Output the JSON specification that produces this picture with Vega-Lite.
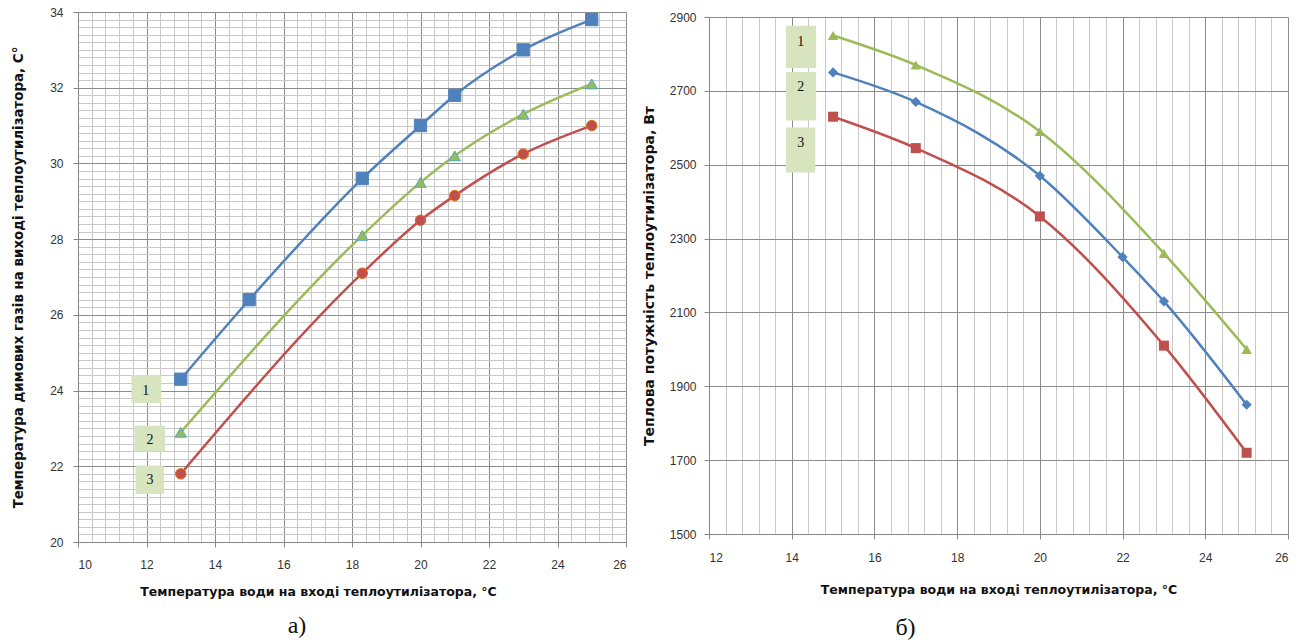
{
  "$schema": "https://vega.github.io/schema/vega-lite/v6.json",
  "padding": {"left": 11, "top": 6, "right": 5, "bottom": 5},
  "background": "white",
  "spacing": 15,
  "resolve": {"scale": {"color": "independent", "shape": "independent", "size": "independent", "stroke": "independent"}},
  "config": {
    "view": {"stroke": null},
    "axis": {
      "labelFont": "Liberation Sans",
      "labelFontSize": 12,
      "labelColor": "#333333",
      "titleFont": "DejaVu Sans",
      "titleFontSize": 12.5,
      "titleFontWeight": "bold",
      "titleColor": "#111111",
      "domainColor": "#868686",
      "tickColor": "#868686",
      "tickSize": 5,
      "format": "d"
    },
    "title": {"font": "Liberation Serif", "fontSize": 24, "fontWeight": "normal", "color": "#111111"}
  },
  "datasets": {
    "a": [
      {"t": 13, "v": 24.3, "series": "1"},
      {"t": 15, "v": 26.4, "series": "1"},
      {"t": 18.3, "v": 29.6, "series": "1"},
      {"t": 20, "v": 31.0, "series": "1"},
      {"t": 21, "v": 31.8, "series": "1"},
      {"t": 23, "v": 33.0, "series": "1"},
      {"t": 25, "v": 33.8, "series": "1"},
      {"t": 13, "v": 22.9, "series": "2"},
      {"t": 18.3, "v": 28.1, "series": "2"},
      {"t": 20, "v": 29.5, "series": "2"},
      {"t": 21, "v": 30.2, "series": "2"},
      {"t": 23, "v": 31.3, "series": "2"},
      {"t": 25, "v": 32.1, "series": "2"},
      {"t": 13, "v": 21.8, "series": "3"},
      {"t": 18.3, "v": 27.1, "series": "3"},
      {"t": 20, "v": 28.5, "series": "3"},
      {"t": 21, "v": 29.15, "series": "3"},
      {"t": 23, "v": 30.25, "series": "3"},
      {"t": 25, "v": 31.0, "series": "3"}
    ],
    "aLabels": [
      {"n": "1", "x1": 11.56, "x2": 12.43, "y1": 24.41, "y2": 23.67, "tx": 11.98, "ty": 24.0},
      {"n": "2", "x1": 11.65, "x2": 12.54, "y1": 23.07, "y2": 22.39, "tx": 12.1, "ty": 22.7},
      {"n": "3", "x1": 11.68, "x2": 12.51, "y1": 22.02, "y2": 21.27, "tx": 12.1, "ty": 21.64}
    ],
    "b": [
      {"t": 15, "p": 2850, "series": "1"},
      {"t": 17, "p": 2770, "series": "1"},
      {"t": 20, "p": 2590, "series": "1"},
      {"t": 23, "p": 2260, "series": "1"},
      {"t": 25, "p": 2000, "series": "1"},
      {"t": 15, "p": 2750, "series": "2"},
      {"t": 17, "p": 2670, "series": "2"},
      {"t": 20, "p": 2470, "series": "2"},
      {"t": 22, "p": 2250, "series": "2"},
      {"t": 23, "p": 2130, "series": "2"},
      {"t": 25, "p": 1850, "series": "2"},
      {"t": 15, "p": 2630, "series": "3"},
      {"t": 17, "p": 2545, "series": "3"},
      {"t": 20, "p": 2360, "series": "3"},
      {"t": 23, "p": 2010, "series": "3"},
      {"t": 25, "p": 1720, "series": "3"}
    ],
    "bLabels": [
      {"n": "1", "x1": 13.86, "x2": 14.59, "y1": 2876, "y2": 2762, "tx": 14.22, "ty": 2832},
      {"n": "2", "x1": 13.86, "x2": 14.59, "y1": 2751, "y2": 2620, "tx": 14.22, "ty": 2710},
      {"n": "3", "x1": 13.86, "x2": 14.57, "y1": 2601, "y2": 2479, "tx": 14.22, "ty": 2559}
    ]
  },
  "hconcat": [
    {
      "width": 548,
      "height": 530,
      "title": {"text": "а)", "orient": "bottom", "dx": -55, "offset": 16},
      "encoding": {
        "x": {
          "type": "quantitative",
          "scale": {"domain": [10, 26], "nice": false, "zero": false},
          "axis": {
            "title": "Температура води на вході теплоутилізатора, °С",
            "values": [10, 10.4, 10.8, 11.2, 11.6, 12, 12.4, 12.8, 13.2, 13.6, 14, 14.4, 14.8, 15.2, 15.6, 16, 16.4, 16.8, 17.2, 17.6, 18, 18.4, 18.8, 19.2, 19.6, 20, 20.4, 20.8, 21.2, 21.6, 22, 22.4, 22.8, 23.2, 23.6, 24, 24.4, 24.8, 25.2, 25.6, 26],
            "labelExpr": "datum.value % 2 === 0 ? datum.label : ''",
            "labelPadding": 12,
            "titlePadding": 15,
            "titleX": 240,
            "grid": true,
            "gridColor": {"condition": {"test": "datum.value % 2 === 0", "value": "#8c8c8c"}, "value": "#c8c8c8"},
            "gridOpacity": 1,
            "tickOpacity": {"condition": {"test": "datum.value % 2 === 0", "value": 1}, "value": 0}
          }
        },
        "y": {
          "type": "quantitative",
          "scale": {"domain": [20, 34], "nice": false, "zero": false},
          "axis": {
            "title": "Температура димових газів на виході теплоутилізатора, С°",
            "titleFontSize": 13.4,
            "values": [20, 20.2, 20.4, 20.6, 20.8, 21, 21.2, 21.4, 21.6, 21.8, 22, 22.2, 22.4, 22.6, 22.8, 23, 23.2, 23.4, 23.6, 23.8, 24, 24.2, 24.4, 24.6, 24.8, 25, 25.2, 25.4, 25.6, 25.8, 26, 26.2, 26.4, 26.6, 26.8, 27, 27.2, 27.4, 27.6, 27.8, 28, 28.2, 28.4, 28.6, 28.8, 29, 29.2, 29.4, 29.6, 29.8, 30, 30.2, 30.4, 30.6, 30.8, 31, 31.2, 31.4, 31.6, 31.8, 32, 32.2, 32.4, 32.6, 32.8, 33, 33.2, 33.4, 33.6, 33.8, 34],
            "labelExpr": "datum.value % 2 === 0 ? datum.label : ''",
            "labelPadding": 10,
            "titlePadding": 24,
            "grid": true,
            "gridColor": {"condition": {"test": "datum.value % 2 === 0", "value": "#8c8c8c"}, "value": "#c8c8c8"},
            "gridOpacity": 1,
            "tickOpacity": {"condition": {"test": "datum.value % 2 === 0", "value": 1}, "value": 0}
          }
        }
      },
      "layer": [
        {
          "data": {"name": "aLabels"},
          "mark": {"type": "rect", "fill": "#d7e4bd"},
          "encoding": {
            "x": {"field": "x1"},
            "x2": {"field": "x2"},
            "y": {"field": "y1"},
            "y2": {"field": "y2"}
          }
        },
        {
          "data": {"name": "aLabels"},
          "mark": {"type": "text", "font": "Liberation Serif", "fontSize": 14, "fill": "#111111"},
          "encoding": {
            "x": {"field": "tx"},
            "y": {"field": "ty"},
            "text": {"field": "n"}
          }
        },
        {
          "data": {"name": "a"},
          "mark": {"type": "line", "interpolate": "monotone", "strokeWidth": 2.5},
          "encoding": {
            "x": {"field": "t"},
            "y": {"field": "v"},
            "color": {"field": "series", "type": "nominal", "scale": {"domain": ["1", "2", "3"], "range": ["#4f81bd", "#9bbb59", "#c0504d"]}, "legend": null}
          }
        },
        {
          "data": {"name": "a"},
          "mark": {"type": "point", "filled": true, "opacity": 1},
          "encoding": {
            "x": {"field": "t"},
            "y": {"field": "v"},
            "color": {"field": "series", "type": "nominal", "scale": {"domain": ["1", "2", "3"], "range": ["#4f81bd", "#9bbb59", "#c0504d"]}, "legend": null},
            "shape": {"field": "series", "type": "nominal", "scale": {"domain": ["1", "2", "3"], "range": ["square", "triangle-up", "circle"]}, "legend": null},
            "size": {"field": "series", "type": "nominal", "scale": {"domain": ["1", "2", "3"], "range": [150, 110, 110]}, "legend": null},
            "stroke": {"field": "series", "type": "nominal", "scale": {"domain": ["1", "2", "3"], "range": ["#4f81bd", "#4bacc6", "#e46c0a"]}, "legend": null},
            "strokeWidth": {"value": 1}
          }
        }
      ]
    },
    {
      "vconcat": [
        {
          "width": 579,
          "height": 5,
          "data": {"values": [{"k": 0}]},
          "mark": {"type": "point", "opacity": 0}
        },
        {
          "width": 579,
          "height": 517,
          "title": {"text": "б)", "orient": "bottom", "dx": -93, "offset": 20},
          "encoding": {
            "x": {
              "type": "quantitative",
              "scale": {"domain": [12, 26], "nice": false, "zero": false},
              "axis": {
                "title": "Температура води на вході теплоутилізатора, °С",
                "values": [12, 12.4, 12.8, 13.2, 13.6, 14, 14.4, 14.8, 15.2, 15.6, 16, 16.4, 16.8, 17.2, 17.6, 18, 18.4, 18.8, 19.2, 19.6, 20, 20.4, 20.8, 21.2, 21.6, 22, 22.4, 22.8, 23.2, 23.6, 24, 24.4, 24.8, 25.2, 25.6, 26],
                "labelExpr": "datum.value % 2 === 0 ? datum.label : ''",
                "labelPadding": 13,
                "titlePadding": 20,
                "grid": true,
                "gridColor": {"condition": {"test": "datum.value % 2 === 0", "value": "#8c8c8c"}, "value": "#c8c8c8"},
                "gridOpacity": 1,
                "tickOpacity": {"condition": {"test": "datum.value % 2 === 0", "value": 1}, "value": 0}
              }
            },
            "y": {
              "type": "quantitative",
              "scale": {"domain": [1500, 2900], "nice": false, "zero": false},
              "axis": {
                "title": "Теплова потужність теплоутилізатора, Вт",
                "titleFontSize": 14,
                "values": [1500, 1700, 1900, 2100, 2300, 2500, 2700, 2900],
                "labelPadding": 8,
                "titlePadding": 13,
                "grid": true,
                "gridColor": "#8c8c8c",
                "gridOpacity": 1
              }
            }
          },
          "layer": [
            {
              "data": {"name": "bLabels"},
              "mark": {"type": "rect", "fill": "#d7e4bd"},
              "encoding": {
                "x": {"field": "x1"},
                "x2": {"field": "x2"},
                "y": {"field": "y1"},
                "y2": {"field": "y2"}
              }
            },
            {
              "data": {"name": "bLabels"},
              "mark": {"type": "text", "font": "Liberation Serif", "fontSize": 14, "fill": "#111111"},
              "encoding": {
                "x": {"field": "tx"},
                "y": {"field": "ty"},
                "text": {"field": "n"}
              }
            },
            {
              "data": {"name": "b"},
              "mark": {"type": "line", "interpolate": "monotone", "strokeWidth": 2.5},
              "encoding": {
                "x": {"field": "t"},
                "y": {"field": "p"},
                "color": {"field": "series", "type": "nominal", "scale": {"domain": ["1", "2", "3"], "range": ["#9bbb59", "#4f81bd", "#c0504d"]}, "legend": null}
              }
            },
            {
              "data": {"name": "b"},
              "mark": {"type": "point", "filled": true, "opacity": 1},
              "encoding": {
                "x": {"field": "t"},
                "y": {"field": "p"},
                "color": {"field": "series", "type": "nominal", "scale": {"domain": ["1", "2", "3"], "range": ["#9bbb59", "#4f81bd", "#c0504d"]}, "legend": null},
                "shape": {"field": "series", "type": "nominal", "scale": {"domain": ["1", "2", "3"], "range": ["triangle-up", "diamond", "square"]}, "legend": null},
                "size": {"field": "series", "type": "nominal", "scale": {"domain": ["1", "2", "3"], "range": [110, 100, 120]}, "legend": null}
              }
            }
          ]
        }
      ],
      "spacing": 0,
      "bounds": "flush"
    }
  ]
}
